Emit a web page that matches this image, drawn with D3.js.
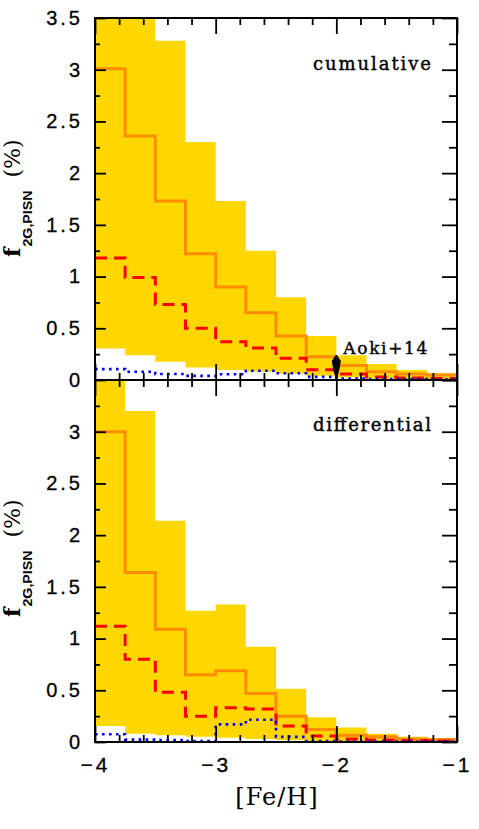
<!DOCTYPE html>
<html>
<head>
<meta charset="utf-8">
<script src="https://cdn.jsdelivr.net/npm/d3@7"></script>
<style>
  body { margin: 0; background: #fff; }
  svg { display: block; }
</style>
</head>
<body>
<svg id="chart" width="479" height="829"></svg>
<script>
// bin left edges in [Fe/H], last bin closes at -1
const feh = [-4, -3.75, -3.5, -3.25, -3, -2.75, -2.5, -2.25, -2, -1.75, -1.5, -1.25];
const fehEnd = -1;

// cumulative panel
const cumBandHi = [3.9, 3.6, 3.28, 2.30, 1.73, 1.25, 0.80, 0.425, 0.24, 0.155, 0.097, 0.065];
const cumBandLo = [0.305, 0.24, 0.177, 0.122, 0.097, 0.08, 0.06, 0.04, 0.025, 0.015, 0.01, 0.008];
const cumOrange = [3.01, 2.36, 1.73, 1.22, 0.90, 0.65, 0.425, 0.225, 0.14, 0.08, 0.058, 0.048];
const cumRed = [1.18, 0.99, 0.73, 0.50, 0.37, 0.31, 0.21, 0.10, 0.058, 0.03, 0.02, 0.015];
const cumBlue = [0.105, 0.08, 0.058, 0.04, 0.055, 0.09, 0.065, 0.03, 0.015, 0.01, 0.01, 0.005];

// differential panel
const difBandHi = [3.9, 3.20, 2.14, 1.27, 1.33, 0.92, 0.515, 0.24, 0.14, 0.08, 0.05, 0.03];
const difBandLo = [0.155, 0.08, 0.065, 0.05, 0.04, 0.03, 0.02, 0.01, 0.008, 0.005, 0.004, 0.003];
const difOrange = [3.0, 1.64, 1.09, 0.65, 0.69, 0.47, 0.25, 0.12, 0.065, 0.05, 0.03, 0.025];
const difRed = [1.12, 0.80, 0.48, 0.25, 0.33, 0.32, 0.155, 0.058, 0.03, 0.02, 0.015, 0.01];
const difBlue = [0.075, 0.023, 0.02, 0.01, 0.17, 0.215, 0.05, 0.01, 0.005, 0.005, 0.005, 0.005];

// ticks
const xMajor = [-4, -3, -2, -1];
const xMinor = [-3.8, -3.6, -3.4, -3.2, -2.8, -2.6, -2.4, -2.2, -1.8, -1.6, -1.4, -1.2];
const yMajor = [0, 0.5, 1, 1.5, 2, 2.5, 3, 3.5];
const yMinor = [0.25, 0.75, 1.25, 1.75, 2.25, 2.75, 3.25];

const aokiFeh = -2;
const aokiLabel = "Aoki+14";

const svg = d3.select("#chart");
const x = d3.scaleLinear().domain([-4, -1]).range([95, 457]);

const panels = [
  {top: 18, bottom: 380, hi: cumBandHi, lo: cumBandLo, orange: cumOrange, red: cumRed, blue: cumBlue,
   title: "cumulative", titleY: 70, yLabels: yMajor, xLabels: false, aoki: true, labelY: 257},
  {top: 380, bottom: 742, hi: difBandHi, lo: difBandLo, orange: difOrange, red: difRed, blue: difBlue,
   title: "differential", titleY: 431, yLabels: yMajor.slice(0, 7), xLabels: true, aoki: false, labelY: 617}
];

function withEnd(vals) {
  // repeat last value at the closing edge so the step reaches -1
  let pts = feh.map((f, i) => [f, vals[i]]);
  pts.push([fehEnd, vals[vals.length - 1]]);
  return pts;
}

panels.forEach(function(p, k) {
  const y = d3.scaleLinear().domain([0, 3.5]).range([p.bottom, p.top]);
  const g = svg.append("g");

  g.append("clipPath").attr("id", "clip" + k)
    .append("rect").attr("x", x(-4)).attr("y", p.top)
    .attr("width", x(-1) - x(-4)).attr("height", p.bottom - p.top);

  const plot = g.append("g").attr("clip-path", `url(#clip${k})`);

  const band = feh.map((f, i) => [f, p.lo[i], p.hi[i]]);
  band.push([fehEnd, p.lo[p.lo.length - 1], p.hi[p.hi.length - 1]]);

  plot.append("path")
    .datum(band)
    .attr("fill", "#ffd700")
    .attr("d", d3.area().curve(d3.curveStepAfter)
      .x(d => x(d[0])).y0(d => y(d[1])).y1(d => y(d[2])));

  const line = d3.line().curve(d3.curveStepAfter).x(d => x(d[0])).y(d => y(d[1]));

  plot.append("path").datum(withEnd(p.orange))
    .attr("fill", "none").attr("stroke", "#ff8c00").attr("stroke-width", 3)
    .attr("d", line);

  plot.append("path").datum(withEnd(p.red))
    .attr("fill", "none").attr("stroke", "#ff0000").attr("stroke-width", 3)
    .attr("stroke-dasharray", "12,7")
    .attr("d", line);

  plot.append("path").datum(withEnd(p.blue))
    .attr("fill", "none").attr("stroke", "#0000ff").attr("stroke-width", 2.6)
    .attr("stroke-dasharray", "2.6,4.4")
    .attr("d", line);

  // ticks, all pointing inwards
  function ticks(axis, tr) {
    const a = g.append("g").attr("transform", tr).call(axis);
    a.select(".domain").remove();
    a.selectAll("line").attr("stroke", "#000").attr("stroke-width", 1.8);
    return a;
  }
  ticks(d3.axisBottom(x).tickValues(xMinor).tickSize(-7).tickFormat(""), `translate(0,${p.bottom})`);
  const xb = ticks(d3.axisBottom(x).tickValues(xMajor).tickSize(-16).tickPadding(15)
    .tickFormat(d => p.xLabels ? "\u2212" + Math.abs(d) : ""), `translate(0,${p.bottom})`);
  ticks(d3.axisTop(x).tickValues(xMinor).tickSize(-7).tickFormat(""), `translate(0,${p.top})`);
  ticks(d3.axisTop(x).tickValues(xMajor).tickSize(-16).tickFormat(""), `translate(0,${p.top})`);

  ticks(d3.axisLeft(y).tickValues(yMinor).tickSize(-5).tickFormat(""), `translate(${x(-4)},0)`);
  const yl = ticks(d3.axisLeft(y).tickValues(yMajor).tickSize(-11).tickPadding(12)
    .tickFormat(d => p.yLabels.includes(d) ? String(d) : ""), `translate(${x(-4)},0)`);
  ticks(d3.axisRight(y).tickValues(yMinor).tickSize(-8).tickFormat(""), `translate(${x(-1)},0)`);
  ticks(d3.axisRight(y).tickValues(yMajor).tickSize(-15).tickFormat(""), `translate(${x(-1)},0)`);

  yl.selectAll("text")
    .attr("font-family", "'Liberation Sans', Arial, sans-serif")
    .attr("font-size", 20).attr("fill", "#000")
    .attr("stroke", "#000").attr("stroke-width", 0.3)
    .attr("letter-spacing", 3);
  xb.selectAll("text")
    .attr("font-family", "'Liberation Sans', Arial, sans-serif")
    .attr("font-size", 21).attr("fill", "#000")
    .attr("stroke", "#000").attr("stroke-width", 0.3)
    .attr("letter-spacing", 3);

  g.append("rect")
    .attr("x", x(-4)).attr("y", p.top)
    .attr("width", x(-1) - x(-4)).attr("height", p.bottom - p.top)
    .attr("fill", "none").attr("stroke", "#000").attr("stroke-width", 2);

  g.append("text")
    .attr("x", 313).attr("y", p.titleY)
    .attr("font-family", "'DejaVu Serif', serif").attr("font-size", 18)
    .attr("stroke", "#000").attr("stroke-width", 0.4)
    .attr("textLength", 118).attr("lengthAdjust", "spacing")
    .text(p.title);

  // y axis title
  const lab = g.append("text")
    .attr("transform", `translate(20,${p.labelY}) rotate(-90)`)
    .attr("font-family", "'DejaVu Serif', serif");
  lab.append("tspan").attr("font-size", 22).attr("font-weight", "bold").text("f");
  lab.append("tspan").attr("font-size", 12).attr("font-weight", "bold")
    .attr("font-family", "'Liberation Sans', Arial, sans-serif")
    .attr("dy", 12).attr("dx", 1).attr("textLength", 56).attr("lengthAdjust", "spacingAndGlyphs")
    .text("2G,PISN");
  lab.append("tspan").attr("font-size", 22).attr("dy", -12).attr("dx", 13).text("(%)");

  if (p.aoki) {
    const ax = x(aokiFeh);
    const ay = y(0);
    g.append("path")
      .attr("d", `M${ax},${ay - 25} L${ax + 4},${ay - 19} L${ax + 2.5},${ay - 10} L${ax},${ay - 1} L${ax - 2.5},${ay - 10} L${ax - 4},${ay - 19} Z`)
      .attr("fill", "#000").attr("stroke", "#000").attr("stroke-width", 1);
    g.append("text")
      .attr("x", ax + 7).attr("y", ay - 26)
      .attr("font-family", "'DejaVu Serif', serif").attr("font-size", 17)
      .attr("stroke", "#000").attr("stroke-width", 0.4)
      .attr("textLength", 84).attr("lengthAdjust", "spacing")
      .text(aokiLabel);
  }
});

svg.append("text")
  .attr("x", 277).attr("y", 805)
  .attr("text-anchor", "middle")
  .attr("font-family", "'DejaVu Serif', serif").attr("font-size", 24)
  .attr("letter-spacing", 1)
  .text("[Fe/H]");
</script>
</body>
</html>
